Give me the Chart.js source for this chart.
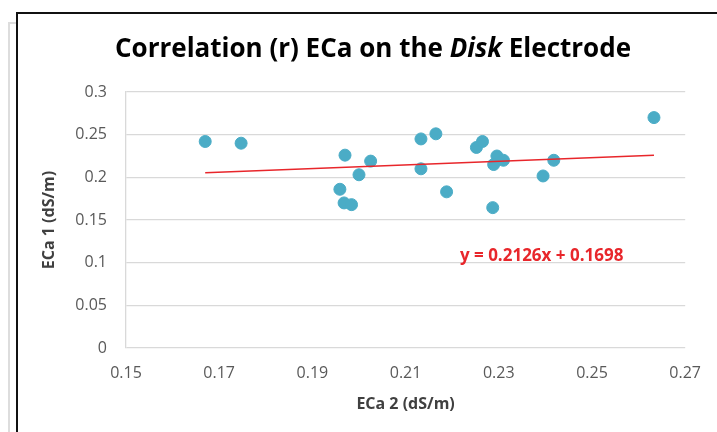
<!DOCTYPE html>
<html>
<head>
<meta charset="utf-8">
<script src="https://cdn.jsdelivr.net/npm/chart.js@4.4.1/dist/chart.umd.min.js"></script>
<style>
  html, body { margin: 0; padding: 0; background: #fff; }
  #wrap { position: relative; width: 717px; height: 432px; overflow: hidden; }
  #frame { position: absolute; left: 16px; top: 12px; width: 800px; height: 500px; border-left: 2px solid #111; border-top: 2px solid #111; box-sizing: border-box; }
  #shadow { position: absolute; left: 8px; top: 22px; width: 10px; height: 500px; border-left: 2px solid #ddd; border-top: 2px solid #ddd; box-sizing: border-box; }
  canvas { position: absolute; left: 0; top: 0; }
</style>
</head>
<body>
<div id="wrap">
  <div id="shadow"></div>
  <div id="frame"></div>
  <canvas id="c" width="717" height="432"></canvas>
</div>
<script>
// ECa 2 (x) and ECa 1 (y), dS/m
const eca2 = [0.167, 0.1747, 0.197, 0.2025, 0.200, 0.1959, 0.1968, 0.1984,
              0.2133, 0.2165, 0.2133, 0.2188, 0.2252, 0.2265, 0.2296, 0.2289,
              0.231, 0.2287, 0.2395, 0.2418, 0.2633];
const eca1 = [0.242, 0.240, 0.226, 0.219, 0.203, 0.186, 0.170, 0.168,
              0.245, 0.251, 0.210, 0.183, 0.235, 0.242, 0.225, 0.215,
              0.220, 0.1645, 0.2016, 0.220, 0.270];
// Linear trendline y = slope*x + intercept
const slope = 0.2126;
const intercept = 0.1698;
const xTicks = [0.15, 0.17, 0.19, 0.21, 0.23, 0.25, 0.27];
const yTicks = [0, 0.05, 0.1, 0.15, 0.2, 0.25, 0.3];
const titleParts = [["Correlation (r) ECa on the ", false], ["Disk", true], [" Electrode", false]];
const trendLabel = "y = 0.2126x + 0.1698";
const trendLabelAt = { x: 0.2392, y: 0.108 };

const points = eca2.map((x, i) => ({ x: x, y: eca1[i] }));
const xMin = Math.min(...eca2), xMax = Math.max(...eca2);
const trend = [{ x: xMin, y: slope * xMin + intercept }, { x: xMax, y: slope * xMax + intercept }];

const FONT = "'Open Sans', Lato, sans-serif";

const titlePlugin = {
  id: 'mixedTitle',
  afterDraw(chart) {
    const ctx = chart.ctx;
    ctx.save();
    ctx.fillStyle = '#000';
    ctx.textBaseline = 'middle';
    const size = 26;
    let total = 0;
    const widths = titleParts.map(([t, it]) => {
      ctx.font = (it ? 'italic ' : '') + 'bold ' + size + 'px ' + FONT;
      const w = ctx.measureText(t).width; total += w; return w;
    });
    let x = 373 - total / 2;
    titleParts.forEach(([t, it], i) => {
      ctx.font = (it ? 'italic ' : '') + 'bold ' + size + 'px ' + FONT;
      ctx.textAlign = 'left';
      ctx.fillText(t, x, 50);
      x += widths[i];
    });
    // trendline equation
    const xs = chart.scales.x, ys = chart.scales.y;
    ctx.font = 'bold 17px ' + FONT;
    ctx.fillStyle = '#e8262b';
    ctx.textAlign = 'center';
    ctx.fillText(trendLabel, xs.getPixelForValue(trendLabelAt.x), ys.getPixelForValue(trendLabelAt.y));
    ctx.restore();
  }
};

new Chart(document.getElementById('c'), {
  type: 'scatter',
  data: {
    datasets: [
      { label: 'ECa', data: points, backgroundColor: '#4bacc6', borderColor: '#4bacc6',
        pointRadius: 6, pointHoverRadius: 6, order: 1 },
      { label: 'Trend', type: 'line', data: trend, borderColor: '#e8262b', borderWidth: 1.5,
        pointRadius: 0, fill: false, showLine: true, order: 0 }
    ]
  },
  options: {
    responsive: false,
    animation: false,
    devicePixelRatio: 1,
    layout: { padding: { left: 0, top: 92, right: 27, bottom: 0 } },
    plugins: { legend: { display: false }, tooltip: { enabled: false }, title: { display: false } },
    scales: {
      x: {
        type: 'linear', min: 0.15, max: 0.27,
        afterBuildTicks: (s) => { s.ticks = xTicks.map(v => ({ value: v })); },
        afterFit: (s) => { s.height = 84; },
        grid: { display: false, drawTicks: false },
        border: { display: false },
        ticks: { color: '#595959', font: { family: FONT, size: 16 }, padding: 16, maxRotation: 0,
                 callback: (v) => v.toFixed(2) },
        title: { display: true, text: 'ECa 2 (dS/m)', color: '#404040',
                 font: { family: FONT, size: 16, weight: 'bold' }, padding: 18 }
      },
      y: {
        type: 'linear', min: 0, max: 0.3,
        afterBuildTicks: (s) => { s.ticks = yTicks.map(v => ({ value: v })); },
        afterFit: (s) => { s.width = 126; },
        grid: { color: '#d9d9d9', lineWidth: 1.3, drawTicks: false },
        border: { display: true, color: '#d9d9d9', width: 1.3 },
        ticks: { color: '#595959', font: { family: FONT, size: 16 }, padding: 19,
                 callback: (v) => String(+v.toFixed(2)) },
        title: { display: true, text: 'ECa 1 (dS/m)', color: '#404040',
                 font: { family: FONT, size: 16, weight: 'bold' }, padding: 40 }
      }
    }
  },
  plugins: [titlePlugin]
});
</script>
</body>
</html>
